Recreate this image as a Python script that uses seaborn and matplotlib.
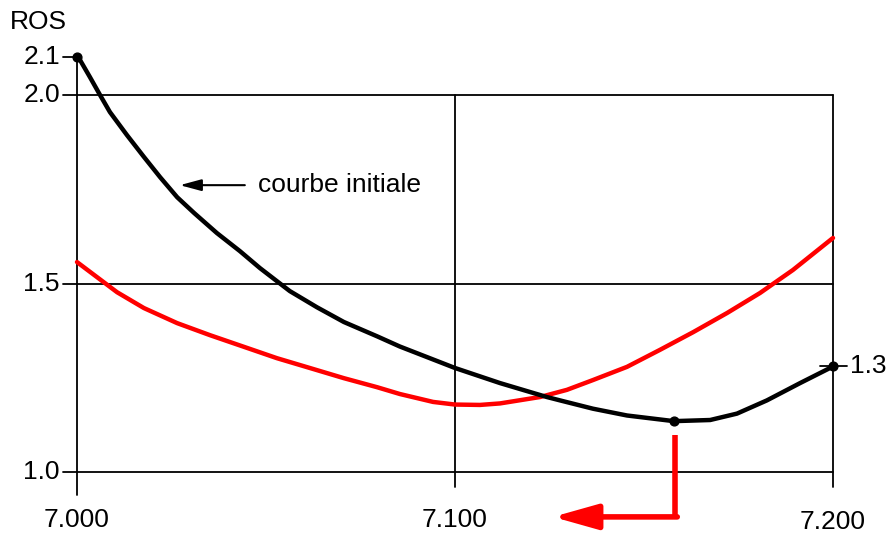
import numpy as np
import pandas as pd
import matplotlib
matplotlib.use("Agg")
import matplotlib.pyplot as plt
import seaborn as sns

# values
black_x = [7.000, 7.0008, 7.0034, 7.0061, 7.0087, 7.0132, 7.0177, 7.0220, 7.0265,
           7.0310, 7.0370, 7.0431, 7.0484, 7.0563, 7.0635, 7.0706, 7.0794, 7.0854,
           7.1000, 7.1119, 7.1243, 7.1278, 7.1365, 7.1455, 7.1579, 7.1675, 7.1746,
           7.1825, 7.1913, 7.2000]
black_y = [2.100, 2.093, 2.048, 2.000, 1.955, 1.894, 1.836, 1.782, 1.729,
           1.687, 1.634, 1.586, 1.541, 1.480, 1.437, 1.398, 1.360, 1.333,
           1.276, 1.236, 1.199, 1.190, 1.168, 1.150, 1.135, 1.138, 1.155,
           1.190, 1.236, 1.280]

red_x = [7.000, 7.0053, 7.0106, 7.0177, 7.0265, 7.0352, 7.0442, 7.0529, 7.0616,
         7.0706, 7.0794, 7.0854, 7.0942, 7.1000, 7.1066, 7.1119, 7.1225, 7.1296,
         7.1365, 7.1455, 7.1542, 7.1630, 7.1720, 7.1807, 7.1894, 7.2000]
red_y = [1.557, 1.517, 1.477, 1.435, 1.395, 1.363, 1.332, 1.302, 1.276,
         1.249, 1.225, 1.207, 1.186, 1.179, 1.178, 1.182, 1.199, 1.218,
         1.244, 1.279, 1.324, 1.371, 1.422, 1.475, 1.536, 1.621]

marked_x = [7.000, 7.1579, 7.200]
marked_y = [2.100, 1.135, 1.280]

y_grid = [1.0, 1.5, 2.0]
y_labels = ["1.0", "1.5", "2.0"]
x_ticks = [7.000, 7.100, 7.200]
x_labels = ["7.000", "7.100", "7.200"]

sns.set_style("white")
plt.rcParams["font.family"] = ["Liberation Sans", "DejaVu Sans"]

black = pd.DataFrame({"x": black_x, "y": black_y})
red = pd.DataFrame({"x": red_x, "y": red_y})

fig = plt.figure(figsize=(8.88, 5.35), dpi=100)
ax = fig.add_axes([77 / 888, 0.012, 756 / 888, 0.916])
ax.set_xlim(7.0, 7.2)
ax.set_ylim(0.85, 2.15)
ax.axis("off")

# grid frame
for v in y_grid:
    ax.plot([6.9963, 7.2], [v, v], color="black", lw=1.3, clip_on=False)
ax.plot([6.9963, 7.0], [2.1, 2.1], color="black", lw=1.3, clip_on=False)
ax.plot([7.0, 7.0], [0.939, 2.1], color="black", lw=1.3, clip_on=False)
ax.plot([7.1, 7.1], [0.96, 2.0], color="black", lw=1.3, clip_on=False)
ax.plot([7.2, 7.2], [0.96, 2.0], color="black", lw=1.3, clip_on=False)
ax.plot([7.1966, 7.2037], [1.28, 1.28], color="black", lw=1.3, clip_on=False)

sns.lineplot(data=red, x="x", y="y", color="red", lw=3.2, sort=False,
             estimator=None, ax=ax, clip_on=False)
sns.lineplot(data=black, x="x", y="y", color="black", lw=3.2, sort=False,
             estimator=None, ax=ax, clip_on=False)
ax.scatter(marked_x, marked_y, s=40, color="black", zorder=5, clip_on=False)

fs = 19
tc = "black"
ax.text(6.9823, 2.194, "ROS", fontsize=fs, color=tc, ha="left", va="center")
ax.text(6.9955, 2.1, "2.1", fontsize=fs, color=tc, ha="right", va="center")
for v, lab in zip(y_grid, y_labels):
    ax.text(6.9955, v, lab, fontsize=fs, color=tc, ha="right", va="center")
for xv, lab, yv in zip(x_ticks, x_labels, [0.873, 0.873, 0.868]):
    ax.text(xv, yv, lab, fontsize=fs, color=tc, ha="center", va="center")
ax.text(7.2045, 1.28, "1.3", fontsize=fs, color=tc, ha="left", va="center")

# annotation for the initial curve
ax.annotate("", xy=(7.0272, 1.761), xytext=(7.0444, 1.761),
            arrowprops=dict(arrowstyle="-|>,head_length=1.3,head_width=0.35",
                            mutation_scale=10, color="black", lw=1.5,
                            shrinkA=0, shrinkB=0))
ax.text(7.0479, 1.761, "courbe initiale", fontsize=fs, color=tc,
        ha="left", va="center")

# red shift arrow
ax.plot([7.1582, 7.1582], [1.098, 0.881], color="red", lw=4, solid_capstyle="butt",
        clip_on=False)
ax.annotate("", xy=(7.1259, 0.881), xytext=(7.1588, 0.881),
            arrowprops=dict(arrowstyle="-|>,head_length=2.7,head_width=0.76",
                            mutation_scale=10, color="red", lw=4,
                            shrinkA=0, shrinkB=0))

fig.savefig("out.png", dpi=100)
